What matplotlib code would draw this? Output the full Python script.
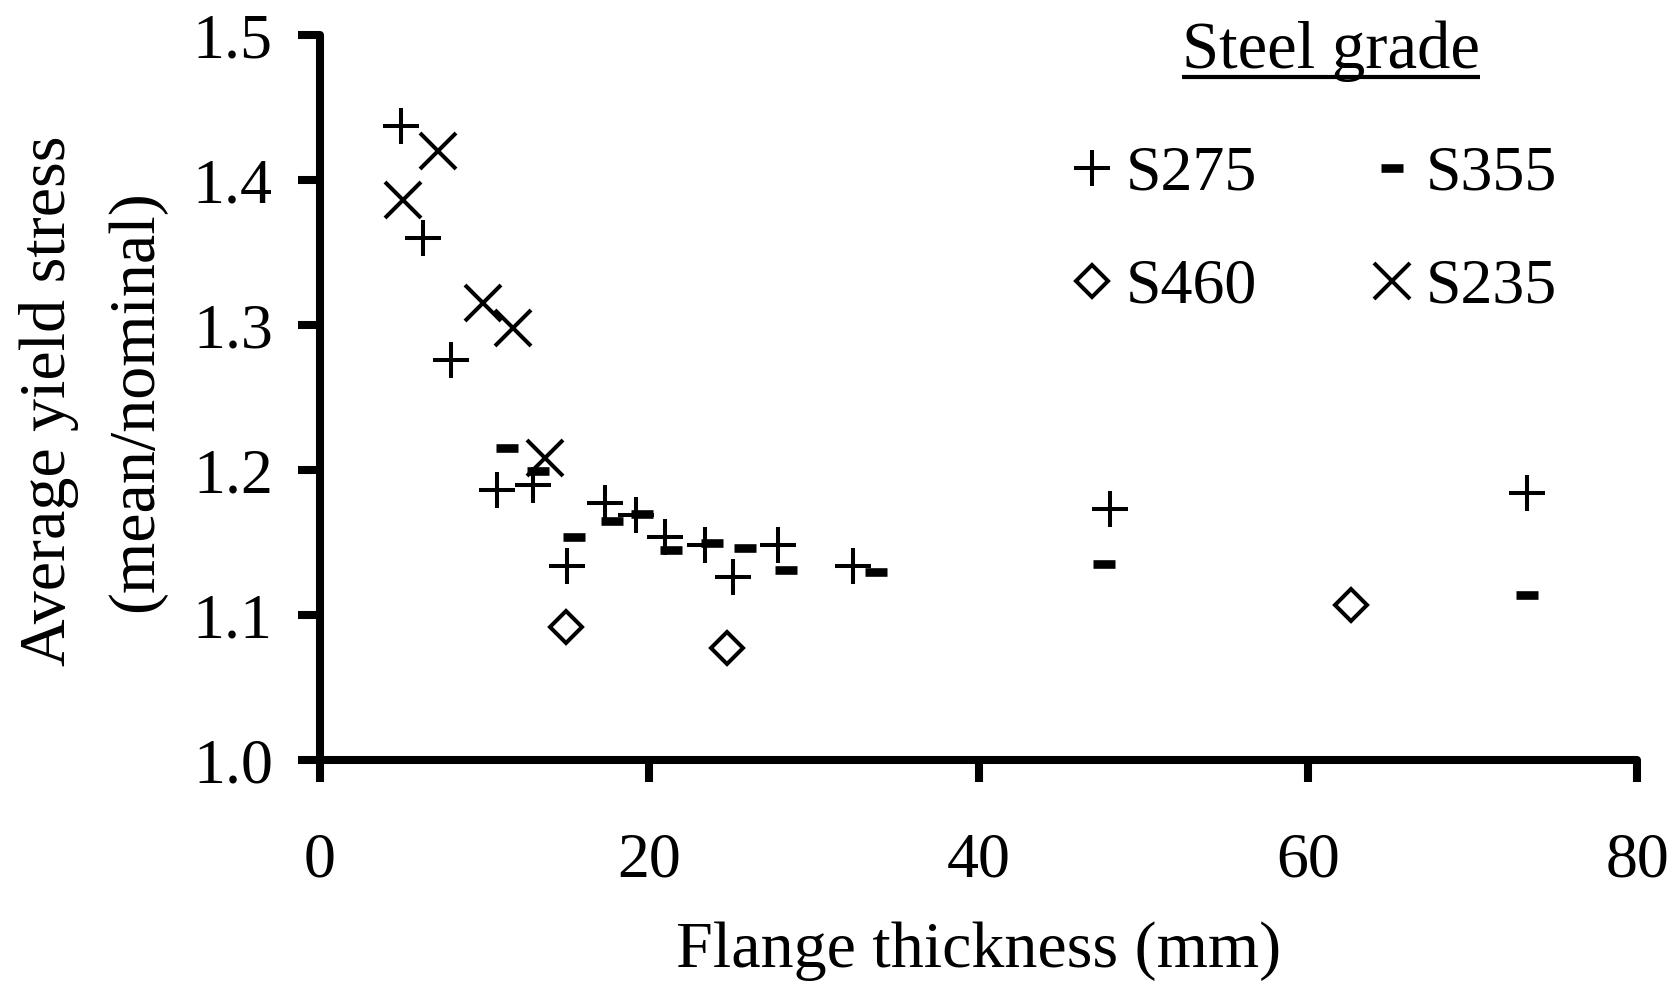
import matplotlib
matplotlib.use("Agg")
import matplotlib.pyplot as plt

# Flange thickness (mm) and average yield stress (mean/nominal) by steel grade
S275_T = [4.94, 6.24, 7.93, 10.73, 12.94, 15.02, 17.30, 19.19, 20.94, 23.41, 25.11, 27.84, 32.39, 48.0, 73.3]
S275_Y = [1.437, 1.360, 1.276, 1.186, 1.190, 1.134, 1.177, 1.169, 1.154, 1.148, 1.126, 1.148, 1.134, 1.173, 1.184]

S355_T = [11.38, 13.27, 15.41, 17.76, 19.58, 21.33, 23.80, 25.82, 28.29, 33.76, 47.6, 73.3]
S355_Y = [1.215, 1.199, 1.154, 1.165, 1.170, 1.145, 1.150, 1.146, 1.131, 1.130, 1.135, 1.114]

S460_T = [14.96, 24.72, 62.63]
S460_Y = [1.092, 1.077, 1.107]

S235_T = [5.07, 7.15, 9.89, 11.71, 13.66]
S235_Y = [1.386, 1.420, 1.315, 1.298, 1.208]

X_TICKS = [0, 20, 40, 60, 80]
Y_TICKS = [1.0, 1.1, 1.2, 1.3, 1.4, 1.5]

plt.rcParams["font.family"] = ["Liberation Serif", "DejaVu Serif"]

fig = plt.figure(figsize=(16.79, 9.86), dpi=100)
ax = fig.add_axes([0.1906, 0.2292, 0.7844, 0.7353])

mk = dict(linestyle="none", color="black")
h275, = ax.plot(S275_T, S275_Y, marker="+", markersize=26.5, markeredgewidth=2.9, **mk)
h355, = ax.plot(S355_T, S355_Y, marker="_", markersize=15.5, markeredgewidth=6.2, **mk)
h460, = ax.plot(S460_T, S460_Y, marker="D", markersize=16.5, markeredgewidth=2.9,
                markerfacecolor="none", **mk)
h235, = ax.plot(S235_T, S235_Y, marker="x", markersize=26, markeredgewidth=2.9, **mk)

ax.set_xlim(0, 80)
ax.set_ylim(1.0, 1.5)
ax.set_xticks(X_TICKS)
ax.set_yticks(Y_TICKS)
ax.set_yticklabels([f"{v:.1f}" for v in Y_TICKS])

for side in ["top", "right"]:
    ax.spines[side].set_visible(False)
for side in ["left", "bottom"]:
    ax.spines[side].set_linewidth(5.8)
    ax.spines[side].set_capstyle("round")
ax.tick_params(axis="both", direction="out", length=16, width=5.8, labelsize=46, color="black")
ax.tick_params(axis="y", pad=18)
ax.tick_params(axis="x", pad=36)

ax.set_xlabel("Flange thickness (mm)", fontsize=47.5, va="baseline")
ax.xaxis.set_label_coords(0.5, -0.2855)
ax.set_ylabel("Average yield stress\n(mean/nominal)", fontsize=47.5, linespacing=1.6)
ax.yaxis.label.set_va("center")
ax.yaxis.set_label_coords(-0.1730, 0.495)

# legend, columns: (S275, S460) then (S355, S235)
leg = ax.legend([h275, h460, h355, h235], ["S275", "S460", "S355", "S235"],
                ncol=2, loc="upper left", bbox_to_anchor=(0.562, 0.848),
                frameon=False, fontsize=46, handlelength=1.0, handletextpad=0.02,
                columnspacing=1.62, labelspacing=0.85, borderpad=0, borderaxespad=0)

title = ax.text(0.7677, 0.9545, "Steel grade", transform=ax.transAxes,
                ha="center", va="baseline", fontsize=48)
renderer = fig.canvas.get_renderer()
bb = title.get_window_extent(renderer).transformed(ax.transAxes.inverted())
uy = (760 - 77) / 725
ax.plot([bb.x0, bb.x1], [uy, uy], transform=ax.transAxes, color="black",
        linewidth=3, clip_on=False, solid_capstyle="butt")

fig.savefig("out.png", dpi=100)
